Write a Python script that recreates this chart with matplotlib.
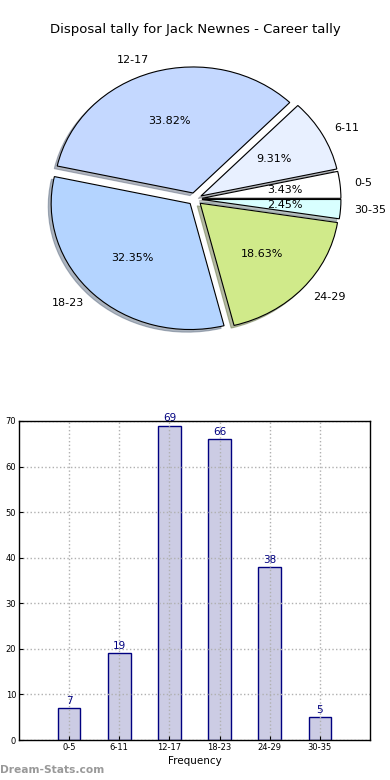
import matplotlib
matplotlib.use("Agg")
import matplotlib.pyplot as plt

categories = ["0-5", "6-11", "12-17", "18-23", "24-29", "30-35"]
counts = [7, 19, 69, 66, 38, 5]
pie_colors = ["#ffffff", "#e8f0ff", "#c4d8ff", "#b4d4ff", "#d0ea8a", "#d8ffff"]
yticks = [0, 10, 20, 30, 40, 50, 60, 70]

W, H = 390.0, 780.0
fig = plt.figure(figsize=(3.9, 7.8), dpi=100)

# Pie (slightly elliptical, like the reference)
cx, cy = 195.0, 199.0
sx, sy = 139.0, 126.0
lim = 1.3
ax1 = fig.add_axes([(cx - lim * sx) / W, (H - cy - lim * sy) / H,
                    2 * lim * sx / W, 2 * lim * sy / H])
ax1.pie(counts, labels=categories, colors=pie_colors, autopct="%.2f%%",
        explode=[0.05] * len(counts),
        shadow={"ox": -0.015, "oy": -0.015, "shade": 0.5},
        startangle=0,
        wedgeprops=dict(edgecolor="black", linewidth=0.8),
        textprops=dict(fontsize=8))
ax1.set_aspect("auto")
ax1.set_xlim(-lim, lim)
ax1.set_ylim(-lim, lim)
ax1.axis("off")
fig.text(0.5, 1 - 30 / H, "Disposal tally for Jack Newnes - Career tally",
         ha="center", va="center", fontsize=9.5)

# Bar
ax2 = fig.add_axes([19 / W, 40 / H, 351 / W, 319 / H])
x = list(range(len(categories)))
ax2.bar(x, counts, width=0.45, color="#ccccE4", edgecolor="#000080",
        linewidth=1, zorder=2)
for xi, c in zip(x, counts):
    ax2.text(xi, c + 0.5, str(c), ha="center", va="bottom", color="#000080",
             fontsize=7.5, zorder=4)
ax2.set_xlim(-1, 6)
ax2.set_ylim(0, 70)
ax2.set_xticks(x)
ax2.set_xticklabels(categories, fontsize=6)
ax2.set_yticks(yticks)
ax2.set_yticklabels([str(t) for t in yticks], fontsize=6)
ax2.tick_params(direction="in", length=3, pad=2)
ax2.grid(True, linestyle=":", color="#b0b0b0", linewidth=1, zorder=3)
ax2.set_axisbelow(False)
ax2.set_xlabel("Frequency", fontsize=7.5, labelpad=3)
for s in ax2.spines.values():
    s.set_linewidth(1)
    s.set_zorder(5)

fig.text(0.0, 1 - 770 / H, "Dream-Stats.com", ha="left", va="center",
         color="#999999", fontsize=7.7, fontweight="bold")

fig.savefig("out.png", dpi=100)
